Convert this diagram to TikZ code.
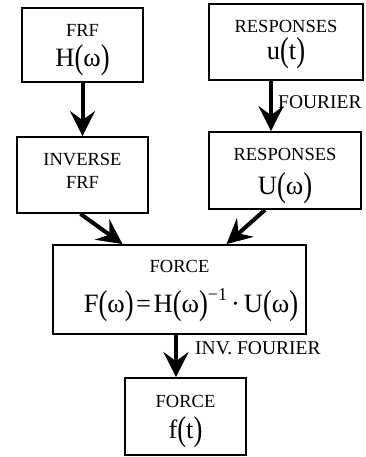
\documentclass[tikz,border=0pt]{standalone}
\usepackage{fontspec}
\usepackage{graphicx}
\setmainfont{Liberation Serif}
\usetikzlibrary{arrows.meta}
\newcommand{\lpar}{\raisebox{-0.06em}{\scalebox{1}[1.3]{(}}}
\newcommand{\rpar}{\raisebox{-0.06em}{\scalebox{1}[1.3]{)}}}
\tikzset{
  box/.style={draw, line width=1.8pt, rectangle, inner sep=0pt},
  lbl/.style={font=\fontsize{18.5}{20}\selectfont, inner sep=0pt},
  edgelbl/.style={font=\fontsize{19.5}{21}\selectfont, inner sep=0pt, anchor=west},
  mth/.style={font=\fontsize{26.5}{28}\selectfont, inner sep=0pt},
  flow/.style={line width=4pt, -{Stealth[length=25pt, width=25pt, inset=9pt]}},
}
\begin{document}
\begin{tikzpicture}[x=1pt, y=-1pt]
\useasboundingbox (0,0) rectangle (365,457);
% boxes
\node[box, minimum width=121pt, minimum height=74pt] (frf) at (82.5,45) {};
\node[box, minimum width=154pt, minimum height=76pt] (resp) at (286,42) {};
\node[box, minimum width=131pt, minimum height=76pt] (ifrf) at (82.5,175) {};
\node[box, minimum width=152pt, minimum height=77pt] (respU) at (285,170.5) {};
\node[box, minimum width=253pt, minimum height=89pt] (force) at (179.5,289.5) {};
\node[box, minimum width=121pt, minimum height=77pt] (ft) at (185.5,416.5) {};
% texts
\node[lbl] (t1) at (82.5,30) {FRF};
\node[mth] (m1) at (82.5,60) {H\lpar ω\rpar};
\node[lbl] (t2) at (286,26) {RESPONSES};
\node[mth] (m2) at (286,53) {u\lpar t\rpar};
\node[lbl] (t3) at (82.5,160) {INVERSE};
\node[lbl] (t4) at (82.5,182) {FRF};
\node[lbl] (t5) at (285,154) {RESPONSES};
\node[mth] (m5) at (285,188) {U\lpar ω\rpar};
\node[lbl] (t6) at (179.5,266) {FORCE};
\node[mth] (m6) at (191,305) {F\lpar ω\rpar\kern2.5pt=\kern2.5pt H\lpar ω\rpar\raisebox{0.48em}{\fontsize{18}{18}\selectfont −1}\kern4pt·\kern4pt U\lpar ω\rpar};
\node[lbl] (t7) at (185.5,401) {FORCE};
\node[mth] (m7) at (185.5,432) {f\lpar t\rpar};
% connectors
\draw[flow] (frf.south) -- (ifrf.north);
\draw[flow] ([xshift=-15pt]resp.south) -- ([xshift=-14pt]respU.north);
\draw[flow] ([xshift=-2pt]ifrf.south) -- ([xshift=-57pt]force.north);
\draw[flow] ([xshift=-20pt]respU.south) -- ([xshift=47pt]force.north);
\draw[flow] ([xshift=-3.5pt]force.south) -- ([xshift=-9.5pt]ft.north);
% connector labels
\node[edgelbl] (l1) at (278,102) {FOURIER};
\node[edgelbl] (l2) at (195,348) {INV. FOURIER};
\end{tikzpicture}
\end{document}
